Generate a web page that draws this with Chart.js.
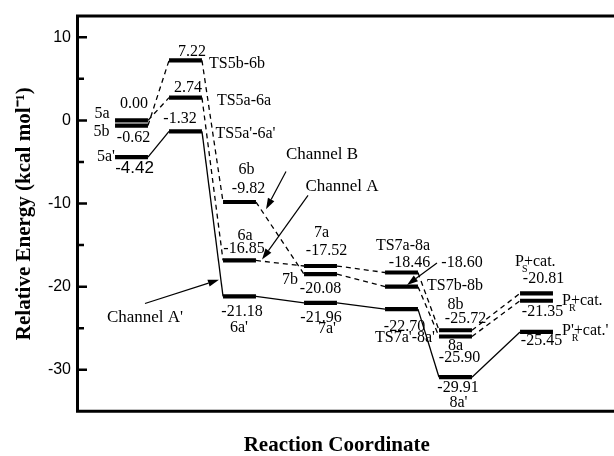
<!DOCTYPE html>
<html><head><meta charset="utf-8">
<script src="https://cdn.jsdelivr.net/npm/chart.js@4.4.1/dist/chart.umd.min.js"></script>
<style>html,body{margin:0;padding:0;background:#fff;overflow:hidden}#wrap{width:614px;height:456px;position:relative}</style>
</head><body><div id="wrap"><canvas id="c" width="614" height="456"></canvas></div>
<script>
// ---- data ----
const stagePositions = [1, 2, 3, 4.5, 6, 7, 8.5];           // reaction-coordinate position of each stage
const channelA  = [0.00, 2.74, -16.85, -17.52, -18.30, -25.25, -20.81];   // dashed (Channel A)
const channelB  = [-0.62, 7.22, -9.82, -18.50, -20.00, -26.00, -21.70];   // dashed (Channel B)
const channelA1 = [-4.42, -1.32, -21.18, -21.96, -22.70, -30.90, -25.45]; // solid (Channel A')
const yMajorTicks = [10, 0, -10, -20, -30];
const yMinorTicks = [5, -5, -15, -25];
const yMin = -35, yMax = 12.55;
const xMin = 0, xMax = 9.6;

// ---- style / layout ----
const HW = 0.305;            // half width of an energy level (x units)
const SERIF = "'Liberation Serif','Times New Roman',serif";
const SANS = "'Liberation Sans',Arial,sans-serif";
const series = {A: channelA, B: channelB, Ap: channelA1};

function levelPoints(vals) {
  const pts = [];
  vals.forEach((v, i) => { pts.push({x: stagePositions[i] - HW, y: v}); pts.push({x: stagePositions[i] + HW, y: v}); });
  return pts;
}
function ds(vals, dashed) {
  return {
    data: levelPoints(vals), borderColor: '#000', pointRadius: 0, tension: 0, fill: false,
    borderWidth: 1.3, borderCapStyle: 'butt',
    segment: {
      borderWidth: c => (c.p0DataIndex % 2 === 0 ? 4.2 : 1.3),
      borderDash: c => (c.p0DataIndex % 2 === 0 ? [] : (dashed ? [5, 4] : []))
    }
  };
}

// text labels anchored to a level: [text, series, stage, dx, dy, font]
const labels = [
  ['5a','A',0,-29.5,-6.5,'s'], ['0.00','A',0,2.5,-16.5,'s'],
  ['5b','B',0,-30,6.3,'s'], ['-0.62','B',0,2,12.3,'s'],
  ["5a'",'Ap',0,-25.5,-0.5,'s'], ['-4.42','Ap',0,3,11.5,'a'],
  ['7.22','B',1,6.5,-8.5,'s'], ['TS5b-6b','B',1,51.5,3,'s'],
  ['2.74','A',1,2.5,-9.6,'s'], ['TS5a-6a','A',1,58.5,3.4,'s'],
  ['-1.32','Ap',1,-5.5,-12.6,'s'], ["TS5a'-6a'",'Ap',1,60,2.4,'s'],
  ['6b','B',2,7,-32.7,'s'], ['-9.82','B',2,9,-13.7,'s'],
  ['6a','A',2,5.5,-24.6,'s'], ['-16.85','A',2,4.5,-11.6,'s'],
  ['-21.18','Ap',2,2.5,15,'s'], ["6a'",'Ap',2,-0.5,31,'s'],
  ['7a','A',3,1,-33,'s'], ['-17.52','A',3,6,-15,'s'],
  ['7b','B',3,-30.5,5.6,'s'], ['-20.08','B',3,0,14.6,'s'],
  ['-21.96','Ap',3,0.5,14.6,'s'], ["7a'",'Ap',3,6.5,25.6,'s'],
  ['TS7a-8a','A',4,1.5,-26.7,'s'], ['-18.46','A',4,8,-9.7,'s'],
  ['-18.60','B',4,60.5,-24,'s'], ['TS7b-8b','B',4,53.5,-1,'s'],
  ['-22.70','Ap',4,3,17.4,'s'], ["TS7a'-8a'",'Ap',4,3.5,28.4,'s'],
  ['8b','A',5,0,-25.4,'s'], ['-25.72','A',5,10,-11,'s'],
  ['8a','B',5,0,9,'s'], ['-25.90','B',5,4,21,'s'],
  ['-29.91','Ap',5,2.5,10.7,'s'], ["8a'",'Ap',5,3,25.7,'s'],
  ['-20.81','A',6,7,-14.8,'s'], ['-21.35','B',6,6,11.3,'s'], ['-25.45','Ap',6,5,8.5,'s']
];
// product labels with subscript: [before, sub, after, series, stage, dxLeft, dy]
const subLabels = [
  ['P','S','+cat.','A',6,-21.5,-31.5],
  ['P','R','+cat.','B',6,25.5,0],
  ["P'",'R',"+cat.'",'Ap',6,25.5,-1.6]
];
// channel captions and pointer arrows (data coordinates)
const captions = [['Channel B',4.528,-4.12], ['Channel A',4.898,-7.94], ["Channel A'",1.25,-23.70]];
const arrows = [
  [[3.861,-6.15],[3.491,-10.69]],
  [[4.269,-9.02],[3.417,-16.74]],
  [[1.25,-22.03],[2.62,-19.17]],
  [[6.657,-17.17],[6.102,-19.79]]
];

const overlay = {
  id: 'overlay',
  afterDraw(chart) {
    const ctx = chart.ctx, ca = chart.chartArea, xs = chart.scales.x, ys = chart.scales.y;
    ctx.save();
    ctx.strokeStyle = '#000'; ctx.fillStyle = '#000';
    // frame top & bottom
    ctx.lineWidth = 3; ctx.lineCap = 'butt';
    ctx.beginPath();
    ctx.moveTo(ca.left - 1.5, ca.top); ctx.lineTo(chart.width, ca.top);
    ctx.moveTo(ca.left - 1.5, ca.bottom); ctx.lineTo(chart.width, ca.bottom);
    ctx.stroke();
    // inward ticks
    ctx.lineWidth = 2.5;
    ctx.beginPath();
    yMajorTicks.forEach(v => { const y = ys.getPixelForValue(v); ctx.moveTo(ca.left, y); ctx.lineTo(ca.left + 9.5, y); });
    yMinorTicks.forEach(v => { const y = ys.getPixelForValue(v); ctx.moveTo(ca.left, y); ctx.lineTo(ca.left + 6.5, y); });
    ctx.stroke();
    // level labels
    ctx.textAlign = 'center'; ctx.textBaseline = 'middle';
    labels.forEach(([t, k, i, dx, dy, f]) => {
      const x = xs.getPixelForValue(stagePositions[i]) + dx;
      const y = ys.getPixelForValue(series[k][i]) + dy;
      ctx.font = f === 'a' ? '17px ' + SANS : '16px ' + SERIF;
      ctx.fillText(t, x, y);
    });
    // product labels
    ctx.textAlign = 'left';
    subLabels.forEach(([a, s, b, k, i, dx, dy]) => {
      const x = xs.getPixelForValue(stagePositions[i]) + dx;
      const y = ys.getPixelForValue(series[k][i]) + dy;
      ctx.font = '16px ' + SERIF;
      ctx.fillText(a, x, y);
      const w = ctx.measureText(a).width;
      ctx.fillText(b, x + w, y);
      ctx.font = '10px ' + SERIF;
      ctx.fillText(s, x + w - 2, y + 8);
    });
    // captions
    ctx.textAlign = 'center';
    ctx.font = '17px ' + SERIF;
    captions.forEach(([t, vx, vy]) => ctx.fillText(t, xs.getPixelForValue(vx), ys.getPixelForValue(vy)));
    // arrows
    ctx.lineWidth = 1.2;
    arrows.forEach(([p, q]) => {
      const x0 = xs.getPixelForValue(p[0]), y0 = ys.getPixelForValue(p[1]);
      const x1 = xs.getPixelForValue(q[0]), y1 = ys.getPixelForValue(q[1]);
      const a = Math.atan2(y1 - y0, x1 - x0), L = 11, H = 3.6;
      const bx = x1 - L * Math.cos(a), by = y1 - L * Math.sin(a);
      ctx.beginPath(); ctx.moveTo(x0, y0); ctx.lineTo(bx, by); ctx.stroke();
      ctx.beginPath();
      ctx.moveTo(x1, y1);
      ctx.lineTo(bx + H * Math.sin(a), by - H * Math.cos(a));
      ctx.lineTo(bx - H * Math.sin(a), by + H * Math.cos(a));
      ctx.closePath(); ctx.fill();
    });
    ctx.restore();
  }
};

new Chart(document.getElementById('c'), {
  type: 'line',
  data: { datasets: [ds(channelA, true), ds(channelB, true), ds(channelA1, false)] },
  options: {
    responsive: false, animation: false, devicePixelRatio: 1,
    layout: { padding: { left: 0, right: 18.1, top: 13.5, bottom: 0 } },
    plugins: { legend: { display: false }, tooltip: { enabled: false } },
    scales: {
      x: {
        type: 'linear', min: xMin, max: xMax,
        grid: { display: false, drawTicks: false }, border: { display: false },
        ticks: { display: false },
        title: { display: true, text: 'Reaction Coordinate', color: '#000',
          font: { family: SERIF, size: 21, weight: 'bold', lineHeight: 1 }, padding: { top: 0, bottom: 0 } },
        afterFit: s => { s.height = 44.7; }
      },
      y: {
        type: 'linear', min: yMin, max: yMax,
        afterBuildTicks: s => { s.ticks = [...yMajorTicks, ...yMinorTicks].sort((a, b) => a - b).map(v => ({ value: v })); },
        ticks: { callback: v => (yMajorTicks.includes(v) ? String(v) : ''), padding: 6.5, color: '#000',
          font: { family: SANS, size: 16 } },
        grid: { display: false, drawTicks: false },
        border: { display: true, width: 3, color: '#000' },
        title: { display: true, text: 'Relative Energy (kcal mol\u207B\u00B9)', color: '#000',
          font: { family: SERIF, size: 21, weight: 'bold', lineHeight: 1 }, padding: { top: 14.5, bottom: 0 } },
        afterFit: s => { s.width = 77.5; }
      }
    }
  },
  plugins: [overlay]
});
</script></body></html>
